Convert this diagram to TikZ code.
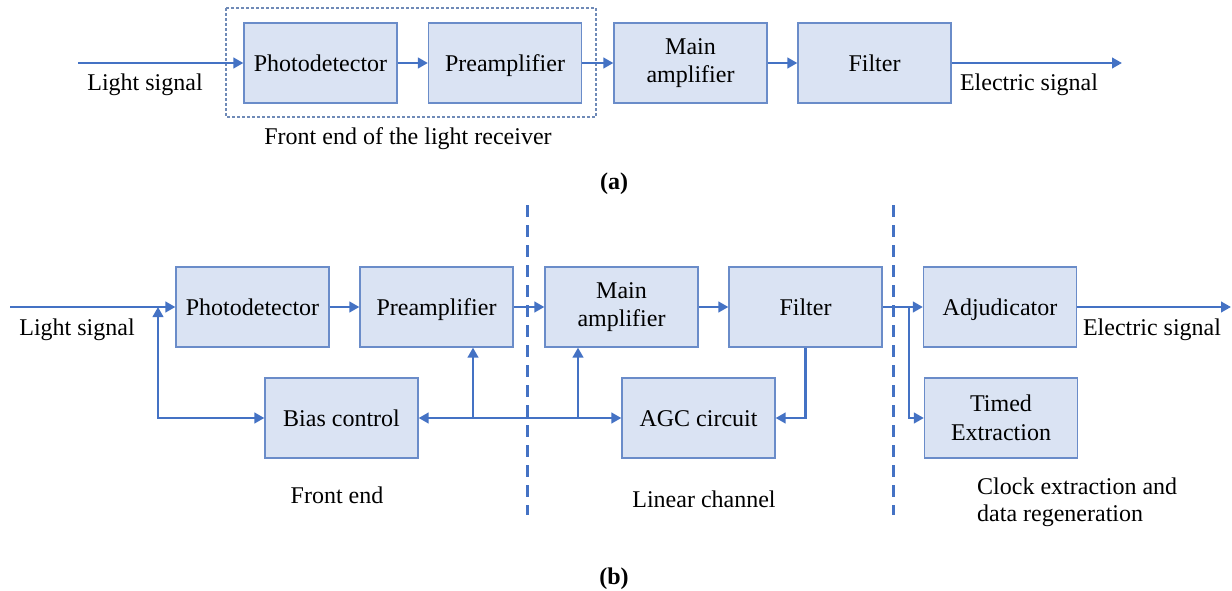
\documentclass[tikz,border=0pt]{standalone}
\usepackage{fontspec}
\setmainfont{Liberation Serif}
\usetikzlibrary{arrows.meta}
\definecolor{boxfill}{HTML}{DAE3F3}
\definecolor{boxline}{HTML}{6A8CC9}
\definecolor{wirec}{HTML}{4472C4}
\definecolor{framec}{HTML}{6F8AB7}
\newcommand\lblfont{\fontsize{24}{28.5}\selectfont}
\begin{document}
\begin{tikzpicture}[x=1pt,y=-1pt,
  block/.style={draw=boxline, line width=1.2pt, fill=boxfill,
    minimum width=153pt, minimum height=80pt, inner sep=0pt,
    align=center, font=\lblfont},
  oneline/.style={text height=21pt, text depth=4.5pt},
  tip/.tip={Triangle[length=10pt,width=10.5pt]},
  wire/.style={draw=wirec, line width=2.9pt, -tip},
  wire2/.style={draw=wirec, line width=2.9pt, tip-tip},
  sepline/.style={draw=wirec, line width=3pt, dash pattern=on 12pt off 8pt},
  frame/.style={draw=framec, line width=1.1pt, dash pattern=on 3pt off 2pt},
  lbl/.style={font=\lblfont, inner sep=0pt}]
\useasboundingbox (0,0) rectangle (1232,591);

% ---------- (a) ----------
\draw[frame] (226,8) rectangle (596,117);
\node[block, oneline] (apd)  at (320.5,63) {Photodetector};
\node[block, oneline] (apre) at (505,63)   {Preamplifier};
\node[block] (amain) at (690.5,63) {Main\\amplifier};
\node[block, oneline] (afil) at (874.5,63) {Filter};
\coordinate (ain) at (78,63);
\coordinate (aout) at (1122,63);
\draw[wire] (ain) -- (apd.west);
\draw[wire] (apd.east) -- (apre.west);
\draw[wire] (apre.east) -- (amain.west);
\draw[wire] (amain.east) -- (afil.west);
\draw[wire] (afil.east) -- (aout);
\node[lbl] (alight) at (145,85) {Light signal};
\node[lbl] (aelec) at (1029,85) {Electric signal};
\node[lbl] (afront) at (408,139) {Front end of the light receiver};
\node[lbl] (acap) at (614,184) {\bfseries (a)};

% ---------- (b) ----------
\draw[sepline] (527,205) -- (527,515);
\draw[sepline] (893,205) -- (893,515);

\node[block, oneline] (pd)   at (252.5,307) {Photodetector};
\node[block, oneline] (pre)  at (436.5,307) {Preamplifier};
\node[block] (main) at (621.5,307) {Main\\amplifier};
\node[block, oneline] (fil)  at (805.5,307) {Filter};
\node[block, oneline] (adj)  at (1000,307)  {Adjudicator};
\node[block, oneline] (bias) at (341.5,418) {Bias control};
\node[block, oneline] (agc)  at (698.5,418) {AGC circuit};
\node[block] (timed) at (1001,418) {Timed\\Extraction};

\coordinate (bin) at (10,307);
\coordinate (bout) at (1231,307);
\coordinate (fb) at (158,307);
\coordinate (split) at (909,307);
\coordinate (brpre) at (473,418);
\coordinate (brmain) at (578,418);

\draw[wire] (bin) -- (pd.west);
\draw[wire] (pd.east) -- (pre.west);
\draw[wire] (pre.east) -- (main.west);
\draw[wire] (main.east) -- (fil.west);
\draw[wire] (fil.east) -- (adj.west);
\draw[wire] (adj.east) -- (bout);
\draw[wire] (split) |- (timed.west);
\draw[wire2] (fb) |- (bias.west);
\draw[wire2] (bias.east) -- (agc.west);
\draw[wire] (brpre) -- (brpre |- pre.south);
\draw[wire] (brmain) -- (brmain |- main.south);
\draw[wire] (fil.south) |- (agc.east);

\node[lbl] (blight) at (77,330) {Light signal};
\node[lbl] (belec) at (1152,330) {Electric signal};
\node[lbl] (bfront) at (337,495) {Front end};
\node[lbl] (blin) at (704,499) {Linear channel};
\node[lbl, anchor=west, align=left, font=\fontsize{24}{27}\selectfont] (bclock) at (977,502) {Clock extraction and\\data regeneration};
\node[lbl] (bcap) at (614,579) {\bfseries (b)};
\end{tikzpicture}
\end{document}
